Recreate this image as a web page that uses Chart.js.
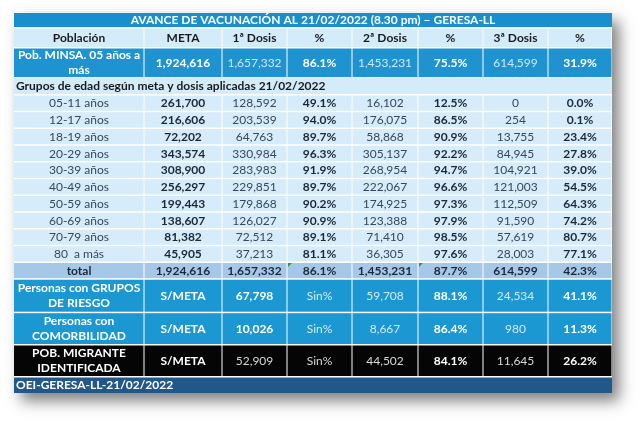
<!DOCTYPE html>
<html>
<head>
<meta charset="utf-8">
<script src="https://cdn.jsdelivr.net/npm/chart.js@4.4.1/dist/chart.umd.min.js"></script>
<style>
  html, body { margin: 0; padding: 0; background: #fff; }
  #wrap { width: 640px; height: 421px; }
</style>
</head>
<body>
<div id="wrap"><canvas id="myChart"></canvas></div>
<script>
// ---- data ----
const title = 'AVANCE DE VACUNACIÓN AL 21/02/2022 (8.30 pm) – GERESA-LL';
const footer = 'OEI-GERESA-LL-21/02/2022';
const groupHeader = 'Grupos de edad según meta y dosis aplicadas 21/02/2022';
const columns = ['Población', 'META', '1ª Dosis', '%', '2ª Dosis', '%', '3ª Dosis', '%'];

const minsaLabel = ['Pob. MINSA. 05 años a', 'más'];
const minsaValues = [1924616, 1657332, 86.1, 1453231, 75.5, 614599, 31.9];

const ageGroups = ['05-11 años', '12-17 años', '18-19 años', '20-29 años', '30-39 años',
                   '40-49 años', '50-59 años', '60-69 años', '70-79 años', '80  a más'];
const meta    = [261700, 216606, 72202, 343574, 308900, 256297, 199443, 138607, 81382, 45905];
const dosis1  = [128592, 203539, 64763, 330984, 283983, 229851, 179868, 126027, 72512, 37213];
const pct1    = [49.1, 94.0, 89.7, 96.3, 91.9, 89.7, 90.2, 90.9, 89.1, 81.1];
const dosis2  = [16102, 176075, 58868, 305137, 268954, 222067, 174925, 123388, 71410, 36305];
const pct2    = [12.5, 86.5, 90.9, 92.2, 94.7, 96.6, 97.3, 97.9, 98.5, 97.6];
const dosis3  = [0, 254, 13755, 84945, 104921, 121003, 112509, 91590, 57619, 28003];
const pct3    = [0.0, 0.1, 23.4, 27.8, 39.0, 54.5, 64.3, 74.2, 80.7, 77.1];

const totalValues = [1924616, 1657332, 86.1, 1453231, 87.7, 614599, 42.3];

const specialLabels  = [['Personas con GRUPOS', 'DE RIESGO'], ['Personas con', 'COMORBILIDAD'], ['POB. MIGRANTE', 'IDENTIFICADA']];
const specialMeta    = ['S/META', 'S/META', 'S/META'];
const specialDosis1  = [67798, 10026, 52909];
const specialPct1    = ['Sin%', 'Sin%', 'Sin%'];
const specialDosis2  = [59708, 8667, 44502];
const specialPct2    = [88.1, 86.4, 84.1];
const specialDosis3  = [24534, 980, 11645];
const specialPct3    = [41.1, 11.3, 26.2];

// ---- layout ----
const colWidths = [130, 78, 65, 65, 66, 65, 65, 64];
const FONT = 'Lato';
const DARK = '#1b2838';
const SOFT = '#35485c';

function num(v) { return typeof v === 'number' ? v.toLocaleString('en-US') : v; }
function pct(v) { return typeof v === 'number' ? v.toFixed(1) + '%' : v; }

// bold pattern for value columns: META, dosis, %, dosis, %, dosis, %
function valueCells(vals, color, faded, boldAll) {
  return vals.map((v, i) => {
    const isPct = i % 2 === 0 && i > 0;
    const isMeta = i === 0;
    const bold = boldAll || isMeta || isPct;
    return { text: isPct ? pct(v) : num(v), bold: bold, color: bold ? color : faded };
  });
}

const rows = [];
rows.push({ h: 15, bg: '#1a8fd0', span: true, align: 'center', text: title, bold: true, color: '#ffffff' });
rows.push({ h: 20, bg: '#d4ebf9', cells: columns.map(c => ({ text: c, bold: true, color: '#1a1a1a' })) });
rows.push({ h: 30, bg: '#1e93cf', cells: [{ lines: minsaLabel, bold: true, color: '#ffffff' }]
  .concat(valueCells(minsaValues, '#ffffff', '#cfe7f6', false)) });
rows.push({ h: 17, bg: '#d4ebf9', span: true, align: 'left', text: groupHeader, bold: true, color: '#1a1a1a' });
ageGroups.forEach((g, i) => {
  rows.push({ h: 16.75, bg: '#d6ecfa', cells: [{ text: g, bold: false, color: SOFT }]
    .concat(valueCells([meta[i], dosis1[i], pct1[i], dosis2[i], pct2[i], dosis3[i], pct3[i]], DARK, SOFT, false)) });
});
rows.push({ h: 16.7, bg: '#a6c8e8', mark: true, cells: [{ text: 'total', bold: true, color: DARK }]
  .concat(valueCells(totalValues, DARK, DARK, true)) });
const specialBg = ['#1b97d1', '#1b97d1', '#050505'];
const specialH = [33.5, 32.3, 32];
specialLabels.forEach((lab, i) => {
  const faded = i === 2 ? '#d8d8d8' : '#d2ebf8';
  const vals = [specialMeta[i], specialDosis1[i], specialPct1[i], specialDosis2[i], specialPct2[i], specialDosis3[i], specialPct3[i]];
  const cells = vals.map((v, k) => {
    let bold = k === 0 || k === 4 || k === 6 || (k === 1 && i < 2);
    return { text: (k === 4 || k === 6) ? pct(v) : num(v), bold: bold, color: bold ? '#ffffff' : faded };
  });
  rows.push({ h: specialH[i], bg: specialBg[i], cells: [{ lines: lab, bold: true, color: '#ffffff' }].concat(cells) });
});
rows.push({ h: 16, bg: '#22578a', span: true, align: 'left', text: footer, bold: true, color: '#ffffff', full: true });

const totalW = colWidths.reduce((a, b) => a + b, 0);
const totalH = rows.reduce((a, r) => a + r.h, 0);

const tablePlugin = {
  id: 'tablePlugin',
  beforeDraw(chart) {
    const { ctx, scales: { x, y } } = chart;
    const left = x.getPixelForValue(0), right = x.getPixelForValue(totalW);
    const top = y.getPixelForValue(0), bottom = y.getPixelForValue(totalH);

    // drop shadow + white grid base
    ctx.save();
    ctx.shadowColor = 'rgba(0,0,0,0.5)';
    ctx.shadowBlur = 14;
    ctx.shadowOffsetX = 7;
    ctx.shadowOffsetY = 8;
    ctx.fillStyle = '#ffffff';
    ctx.fillRect(left, top, right - left, bottom - top);
    ctx.restore();

    ctx.save();
    ctx.textBaseline = 'middle';
    let yv = 0;
    rows.forEach(row => {
      const y0 = y.getPixelForValue(yv), y1 = y.getPixelForValue(yv + row.h);
      const cy = (y0 + y1) / 2;
      if (row.span) {
        ctx.fillStyle = row.bg;
        if (row.full) ctx.fillRect(left, y0 + 0.5, right - left, y1 - y0 - 0.5);
        else ctx.fillRect(left, y0, right - left, y1 - y0 - 1);
        ctx.font = (row.bold ? 'bold ' : '') + '12px ' + FONT;
        ctx.fillStyle = row.color;
        if (row.align === 'center') {
          ctx.textAlign = 'center';
          ctx.fillText(row.text, (left + right) / 2, cy);
        } else {
          ctx.textAlign = 'left';
          ctx.fillText(row.text, left + 2, cy);
        }
      } else {
        let xv = 0;
        row.cells.forEach((cell, c) => {
          const x0 = x.getPixelForValue(xv), x1 = x.getPixelForValue(xv + colWidths[c]);
          ctx.fillStyle = row.bg;
          ctx.fillRect(x0 + (c === 0 ? 0 : 0.5), y0 + 0.5, x1 - x0 - (c === 0 ? 0.5 : 1), y1 - y0 - 1.5);
          if (row.mark && (c === 3 || c === 5)) {
            ctx.fillStyle = '#2e9b3a';
            ctx.beginPath();
            ctx.moveTo(x0 + 1, y0 + 0.5);
            ctx.lineTo(x0 + 5, y0 + 0.5);
            ctx.lineTo(x0 + 1, y0 + 4.5);
            ctx.closePath();
            ctx.fill();
          }
          ctx.font = (cell.bold ? 'bold ' : '') + '12px ' + FONT;
          ctx.fillStyle = cell.color;
          ctx.textAlign = 'center';
          const cx = (x0 + x1) / 2;
          if (cell.lines) {
            const gap = 15;
            cell.lines.forEach((ln, k) => {
              ctx.fillText(ln, cx, cy + (k - (cell.lines.length - 1) / 2) * gap);
            });
          } else {
            ctx.fillText(cell.text, cx, cy);
          }
          xv += colWidths[c];
        });
      }
      yv += row.h;
    });
    ctx.restore();
  }
};

const ctx = document.getElementById('myChart');
new Chart(ctx, {
  type: 'scatter',
  data: { datasets: [{ data: [] }] },
  options: {
    responsive: true,
    maintainAspectRatio: false,
    animation: false,
    layout: { padding: { left: 14, top: 13, right: 28, bottom: 28 } },
    plugins: { legend: { display: false }, tooltip: { enabled: false } },
    scales: {
      x: { type: 'linear', display: false, min: 0, max: totalW },
      y: { type: 'linear', display: false, min: 0, max: totalH, reverse: true }
    }
  },
  plugins: [tablePlugin]
});
</script>
</body>
</html>
